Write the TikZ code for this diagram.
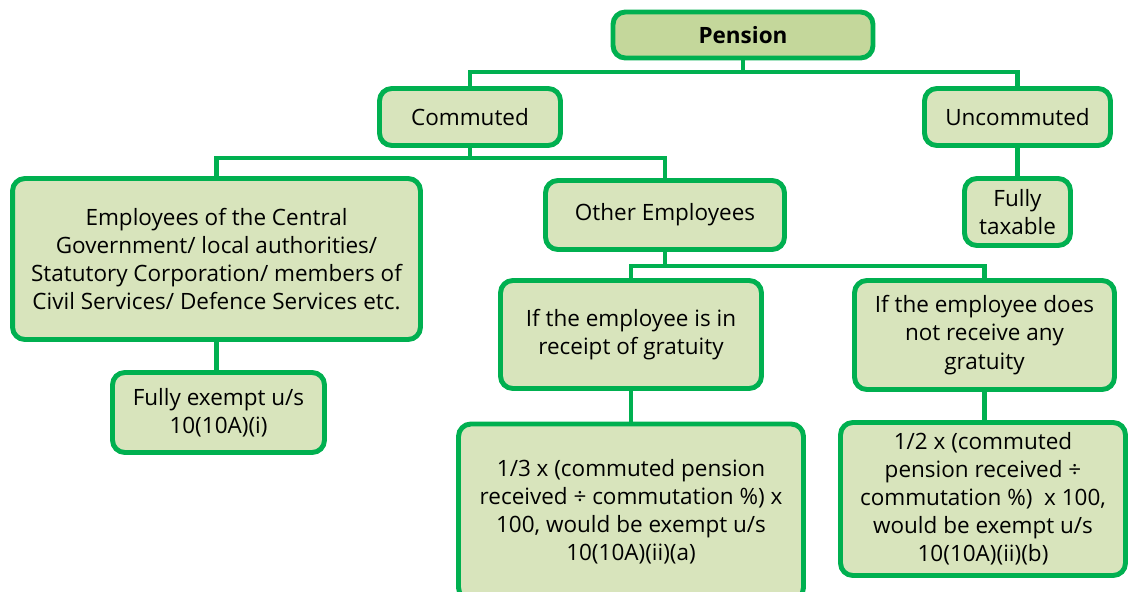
\documentclass[tikz,border=0pt]{standalone}
\usepackage{fontspec}
\setmainfont{Open Sans}
\usetikzlibrary{positioning}

\definecolor{boxline}{HTML}{00B050}
\definecolor{boxfill}{HTML}{D8E4BC}
\definecolor{topfill}{HTML}{C4D79B}

\tikzset{
    box/.style={draw=boxline, fill=boxfill, line width=2.8pt, rounded corners=7pt,
        align=center, font=\fontsize{12.8}{16}\selectfont, inner sep=2pt},
    link/.style={draw=boxline, line width=2.3pt}
}

\begin{document}
\begin{tikzpicture}[x=0.02cm, y=-0.02cm]
    \useasboundingbox (0,0) rectangle (1130,592);

    \path (743, 35) node [box, fill=topfill, minimum width=5.2cm, minimum height=0.92cm,
        font=\fontsize{12.8}{16}\selectfont\bfseries] (pen) {Pension};
    \path (470, 117) node [box, minimum width=3.62cm, minimum height=1.14cm] (com) {Commuted};
    \path (1017.5, 117) node [box, minimum width=3.72cm, minimum height=1.14cm] (unc) {Uncommuted};

    \path (216.5, 259) node [box, minimum width=8.16cm, minimum height=3.22cm] (emp)
        {Employees of the Central\\ Government/ local authorities/\\ Statutory Corporation/ members of\\ Civil Services/ Defence Services etc.};
    \path (218.5, 412.5) node [box, minimum width=4.24cm, minimum height=1.6cm] (fex)
        {Fully exempt u/s\\ 10(10A)(i)};

    \path (665, 215) node [box, minimum width=4.78cm, minimum height=1.38cm] (oth) {Other Employees};
    \path (1017.5, 212) node [box, minimum width=2.12cm, minimum height=1.34cm] (tax) {Fully\\ taxable};

    \path (631, 334.5) node [box, minimum width=5.22cm, minimum height=2.16cm] (rec)
        {If the employee is in\\ receipt of gratuity};
    \path (984.5, 335) node [box, minimum width=5.2cm, minimum height=2.18cm] (nrec)
        {If the employee does\\ not receive any\\ gratuity};

    \path (631, 512) node [box, minimum width=6.9cm, minimum height=3.52cm] (one)
        {1/3 x (commuted pension\\ received ÷ commutation \%) x\\ 100, would be exempt u/s\\ 10(10A)(ii)(a)};
    \path (983, 499) node [box, minimum width=5.7cm, minimum height=3.06cm] (two)
        {1/2 x (commuted\\ pension received ÷\\ commutation \%)~~x 100,\\ would be exempt u/s\\ 10(10A)(ii)(b)};

    % bus lines
    \coordinate (j1) at (743, 72);
    \coordinate (j2) at (470, 158);
    \coordinate (j3) at (665, 266);
    \draw [link] (pen) -- (j1);
    \draw [link] (j1) -| (com);
    \draw [link] (j1) -| (unc);
    \draw [link] (com) -- (j2);
    \draw [link] (j2) -| (emp);
    \draw [link] (j2) -| (oth);
    \draw [link] (unc) -- (tax);
    \draw [link] (emp) -- (fex.north -| emp.south);
    \draw [link] (oth) -- (j3);
    \draw [link] (j3) -| (rec);
    \draw [link] (j3) -| (nrec);
    \draw [link] (rec) -- (one);
    \draw [link] (nrec.south) -- (nrec.south |- two.north);
\end{tikzpicture}
\end{document}
